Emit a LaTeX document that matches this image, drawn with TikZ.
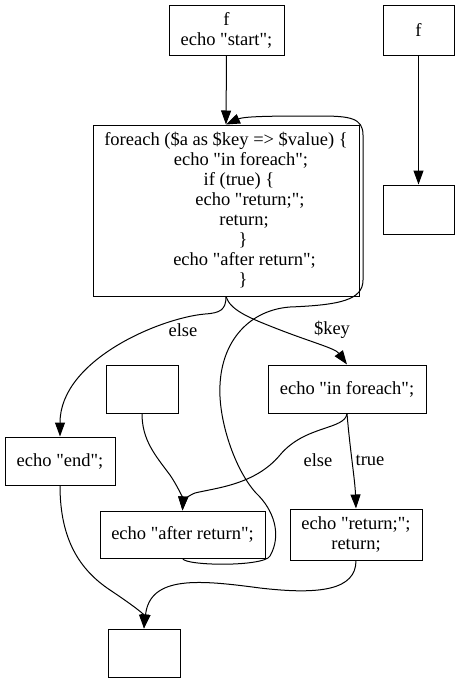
\documentclass[tikz,border=0pt]{standalone}
\usepackage{fontspec}
\setmainfont{Liberation Serif}[Ligatures=TeXOff]
\usetikzlibrary{arrows.meta,positioning}
\newcommand{\gvfont}{\fontsize{18.5}{20}\selectfont}
\newcommand{\ind}[1]{\hspace*{#1pt}}

\begin{document}
\begin{tikzpicture}[
  x=1pt, y=-1pt,
  box/.style={draw, line width=1pt, inner sep=0pt, align=center, font=\gvfont},
  lbl/.style={inner sep=0pt, font=\gvfont},
  arr/.style={-{Triangle[length=14pt,width=10pt]}, line width=1pt},
]
\useasboundingbox (0,0) rectangle (461,683);

\node[box, minimum width=115pt, minimum height=50pt] (start) at (226.5,30) {f\\echo "start";};
\node[box, minimum width=71pt, minimum height=50pt] (ftwo) at (418.5,30) {f};
\node[box, minimum width=71pt, minimum height=49pt] (exitr) at (418.5,209.5) {};
\node[box, minimum width=266pt, minimum height=171pt] (loop) at (226,210.5)
  {foreach (\$a as \$key => \$value) \{\\\ind{30}echo "in foreach";\\\ind{26}if (true) \{\\
   \ind{48}echo "return;";\\\ind{36}return;\\\ind{34}\}\\\ind{37}echo "after return";\\\ind{34}\}};
\node[box, minimum width=72pt, minimum height=48pt] (entry) at (142,389) {};
\node[box, minimum width=158pt, minimum height=48pt] (infe) at (347,389) {echo "in foreach";};
\node[box, minimum width=110pt, minimum height=48pt] (endn) at (60,461) {echo "end";};
\node[box, minimum width=165pt, minimum height=47pt] (after) at (182.5,534.5) {echo "after return";};
\node[box, minimum width=132pt, minimum height=51pt] (ret) at (356,534.5) {echo "return;";\\return;};
\node[box, minimum width=72pt, minimum height=48pt] (exitb) at (144,653) {};

\node[lbl] (lelse) at (183,330) {else};
\node[lbl] (lkey) at (332,330) {\$key};
\node[lbl] (ltrue) at (370,460) {true};
\node[lbl] (lelsetwo) at (318,460) {else};

\draw[arr] (start.south) -- (loop.north);
\draw[arr] (ftwo) -- (exitr);
\draw[arr] (loop.south) .. controls (226,310) and (220,313) .. (205,314)
  .. controls (160,318) and (60,360) .. (endn.north);
\draw[arr] (loop.south) .. controls (230,310) and (250,318) .. (270,326)
  .. controls (310,342) and (335,348) .. (infe.north);
\draw[arr] (infe.south) .. controls (350,450) and (355,480) .. (ret.north);
\draw[arr] (infe.south) .. controls (345,430) and (305,425) .. (280,455)
  .. controls (255,485) and (215,488) .. (195,493)
  .. controls (187,496) and (183,502) .. (after.north);
\draw[arr] (entry.south) .. controls (142,440) and (155,455) .. (170,475)
  .. controls (180,490) and (183,500) .. (after.north);
\draw[arr] (after.south) .. controls (185,566) and (264,567) .. (270,556)
  .. controls (282,535) and (274,510) .. (256,493)
  .. controls (235,470) and (218,420) .. (220,385)
  .. controls (222,340) and (250,310) .. (290,307)
  .. controls (340,305) and (363,300) .. (363,280)
  -- (363,135)
  .. controls (363,118) and (350,116) .. (320,116)
  .. controls (280,116) and (245,116) .. (loop.north);
\draw[arr] (endn.south) .. controls (60,540) and (80,570) .. (110,590)
  .. controls (140,610) and (144,615) .. (exitb.north);
\draw[arr] (ret.south) .. controls (356,590) and (320,595) .. (260,588)
  .. controls (200,580) and (150,575) .. (exitb.north);
\end{tikzpicture}
\end{document}
